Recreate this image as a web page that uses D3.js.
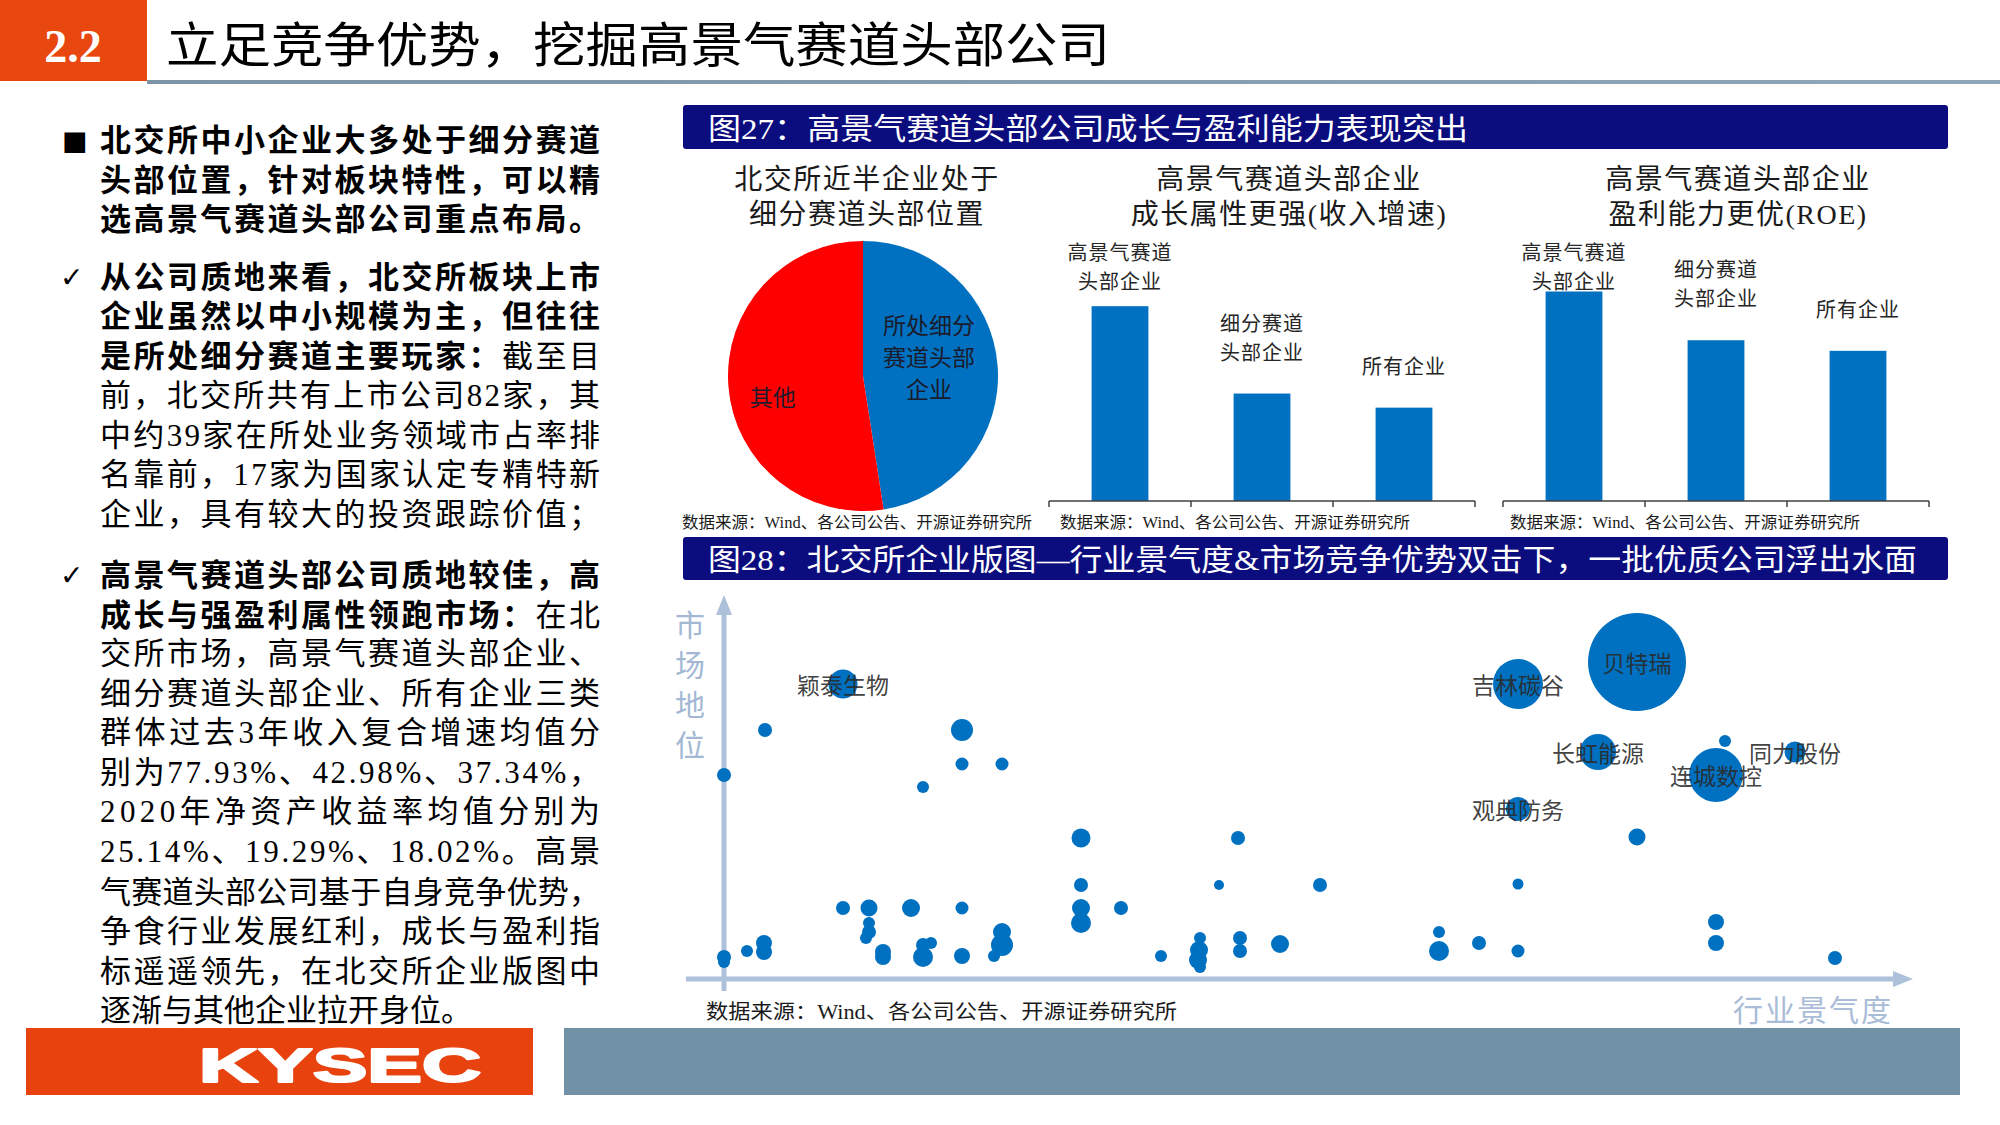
<!DOCTYPE html>
<html><head><meta charset="utf-8">
<script src="https://cdn.jsdelivr.net/npm/d3@7"></script>
<style>
body{margin:0;background:#fff}
svg{display:block}
text{font-family:"Liberation Serif","Noto Sans CJK SC",serif}
</style>
</head><body>
<svg id="c" width="2000" height="1125"></svg>
<script>
// ---------------- DATA ----------------
const pageTitle = "立足竞争优势，挖掘高景气赛道头部公司";
const sectionNo = "2.2";
const fig27Title = "图27：高景气赛道头部公司成长与盈利能力表现突出";
const fig28Title = "图28：北交所企业版图—行业景气度&市场竞争优势双击下，一批优质公司浮出水面";
const sourceText = "数据来源：Wind、各公司公告、开源证券研究所";

const pieTitle = ["北交所近半企业处于", "细分赛道头部位置"];
const pieCategories = ["所处细分赛道头部企业", "其他"];
const pieLabelLines = [["所处细分", "赛道头部", "企业"], ["其他"]];
const pieValues = [39, 43];

const growthTitle = ["高景气赛道头部企业", "成长属性更强(收入增速)"];
const roeTitle = ["高景气赛道头部企业", "盈利能力更优(ROE)"];
const barCategories = ["高景气赛道头部企业", "细分赛道头部企业", "所有企业"];
const barLabelLines = [["高景气赛道", "头部企业"], ["细分赛道", "头部企业"], ["所有企业"]];
const growthValues = [77.93, 42.98, 37.34];
const roeValues = [25.14, 19.29, 18.02];

const bubbleX = [11.9,4.1,0,23.8,23.8,27.8,19.9,35.7,51.4,35.7,49.5,59.6,11.9,14.5,18.7,23.8,35.7,35.7,39.7,14.5,14.5,14.2,0,0,2.3,4.0,4.0,15.9,15.9,19.9,20.7,19.9,23.8,27.0,27.8,27.8,43.7,47.6,47.5,47.4,47.6,51.6,51.6,55.6,91.3,79.4,87.4,100.1,107.1,99.2,79.4,91.3,79.4,71.5,71.5,75.5,79.4,99.2,99.2,111.1];
const bubbleY = [73.75,62.25,51,62.25,53.75,53.75,48,35.25,35.25,23.5,23.5,23.5,17.75,17.75,17.75,17.75,17.75,14,17.75,14,11.75,10.25,5.5,4.25,7,9,6.75,6.75,5.5,8.5,9,5.5,5.75,5.75,11.75,8.5,5.75,10.25,7.25,4.75,3,10.25,7,8.75,79.25,73.75,56.75,59.5,56.75,51,42.5,35.5,23.75,11.75,7,9,7,14.25,9,5.25];
const bubbleSize = [8.4,1.96,1.96,4.84,1.69,1.69,1.44,3.61,1.96,1.96,1.0,1.96,1.96,2.89,3.24,1.69,3.24,4,1.96,1.44,1.96,1.44,1.96,1.44,1.44,2.56,2.56,2.56,2.56,1.96,1.44,4,2.56,1.44,3.24,4.84,1.44,1.44,3.24,3.24,1.44,1.96,1.96,3.24,96,25,13,1.44,4.4,29,5.76,2.89,1.21,1.44,4,1.96,1.69,2.56,2.56,1.96];
const labelIndex = [0, 44, 45, 46, 48, 49, 50];
const labelNames = ["颖泰生物", "贝特瑞", "吉林碳谷", "长虹能源", "同力股份", "连城数控", "观典防务"];
const yAxisTitle = "市场地位";
const xAxisTitle = "行业景气度";

// left column text: [marker, lines], each line = segments [text, bold]
const paragraphs = [
  ["■", [
    [["北交所中小企业大多处于细分赛道", 1]],
    [["头部位置，针对板块特性，可以精", 1]],
    [["选高景气赛道头部公司重点布局。", 1]]
  ]],
  ["✓", [
    [["从公司质地来看，北交所板块上市", 1]],
    [["企业虽然以中小规模为主，但往往", 1]],
    [["是所处细分赛道主要玩家：", 1], ["截至目", 0]],
    [["前，北交所共有上市公司82家，其", 0]],
    [["中约39家在所处业务领域市占率排", 0]],
    [["名靠前，17家为国家认定专精特新", 0]],
    [["企业，具有较大的投资跟踪价值；", 0]]
  ]],
  ["✓", [
    [["高景气赛道头部公司质地较佳，高", 1]],
    [["成长与强盈利属性领跑市场：", 1], ["在北", 0]],
    [["交所市场，高景气赛道头部企业、", 0]],
    [["细分赛道头部企业、所有企业三类", 0]],
    [["群体过去3年收入复合增速均值分", 0]],
    [["别为77.93%、42.98%、37.34%，", 0]],
    [["2020年净资产收益率均值分别为", 0]],
    [["25.14%、19.29%、18.02%。高景", 0]],
    [["气赛道头部公司基于自身竞争优势，", 0]],
    [["争食行业发展红利，成长与盈利指", 0]],
    [["标遥遥领先，在北交所企业版图中", 0]],
    [["逐渐与其他企业拉开身位。", 0]]
  ]]
];

// ---------------- DRAW ----------------
const svg = d3.select("#c");
const BLUE = "#0070c0", NAVY = "#0b0c7e";

// header
svg.append("rect").attr("x", 0).attr("y", 0).attr("width", 147).attr("height", 81).attr("fill", "#e8470f");
svg.append("text").attr("x", 73).attr("y", 46).attr("text-anchor", "middle").attr("dominant-baseline", "central")
  .attr("font-size", 46).attr("font-weight", 700).attr("fill", "#fff").text(sectionNo);
svg.append("text").attr("x", 166).attr("y", 45).attr("dominant-baseline", "central")
  .attr("font-size", 48).attr("fill", "#000").attr("textLength", 944).attr("lengthAdjust", "spacingAndGlyphs").text(pageTitle);
const hg = svg.append("defs").append("linearGradient").attr("id", "hl");
hg.append("stop").attr("offset", "0%").attr("stop-color", "#7d93a6");
hg.append("stop").attr("offset", "100%").attr("stop-color", "#8fa5b8");
svg.append("rect").attr("x", 147).attr("y", 80).attr("width", 1853).attr("height", 4).attr("fill", "url(#hl)");

// left text
const lineYs = [[140, 180, 219], [277, 316, 356, 395, 435, 474, 514], [575, 615, 653, 693, 732, 772, 811, 851, 892, 931, 971, 1010]];
paragraphs.forEach((p, pi) => {
  const marker = p[0];
  svg.append("text").attr("x", marker === "■" ? 62 : 60).attr("y", lineYs[pi][0]).attr("dominant-baseline", "central")
    .style("font-family", "DejaVu Sans").attr("font-size", marker === "■" ? 27 : 28).attr("fill", "#000").text(marker);
  p[1].forEach((segs, li) => {
    const t = svg.append("text").attr("x", 100).attr("y", lineYs[pi][li]).attr("dominant-baseline", "central")
      .attr("font-size", 31).attr("fill", "#000");
    segs.forEach(s => t.append("tspan").attr("font-weight", s[1] ? 700 : 400).text(s[0]));
    const w = t.node().getComputedTextLength();
    if (w > 430) t.attr("textLength", Math.max(500, w)).attr("lengthAdjust", "spacing");
  });
});

// footer
svg.append("rect").attr("x", 26).attr("y", 1028).attr("width", 507).attr("height", 67).attr("fill", "#e8420e");
svg.append("text").attr("x", 340).attr("y", 1065).attr("text-anchor", "middle").attr("dominant-baseline", "central")
  .style("font-family", "Liberation Sans").attr("font-weight", 700).attr("font-size", 48).attr("fill", "#fff")
  .attr("stroke", "#fff").attr("stroke-width", 2.2).attr("stroke-linejoin", "round")
  .attr("textLength", 282).attr("lengthAdjust", "spacingAndGlyphs").text("KYSEC");
svg.append("rect").attr("x", 564).attr("y", 1028).attr("width", 1396).attr("height", 67).attr("fill", "#7192a6");

// figure header bars
function figBar(y, h, title, len) {
  svg.append("rect").attr("x", 683).attr("y", y).attr("width", 1265).attr("height", h).attr("rx", 3).attr("fill", NAVY);
  svg.append("text").attr("x", 708).attr("y", y + h / 2 + 1).attr("dominant-baseline", "central")
    .attr("font-size", 30).attr("fill", "#fff").attr("textLength", len).attr("lengthAdjust", "spacingAndGlyphs").text(title);
}
figBar(105, 44, fig27Title, 760);
figBar(537, 43, fig28Title, 1209);

// sub titles
function subTitle(lines, cx) {
  lines.forEach((l, i) => svg.append("text").attr("x", cx).attr("y", 179 + i * 35).attr("text-anchor", "middle")
    .attr("dominant-baseline", "central").attr("font-size", 28).attr("letter-spacing", 1.5).attr("fill", "#1a1a1a").text(l));
}
subTitle(pieTitle, 867);
subTitle(growthTitle, 1289);
subTitle(roeTitle, 1738);

// pie
const pcx = 863, pcy = 376, pr = 135;
const pie = d3.pie().sort(null).value(d => d)(pieValues);
const arc = d3.arc().innerRadius(0).outerRadius(pr);
const pg = svg.append("g").attr("transform", `translate(${pcx},${pcy})`);
pg.selectAll("path").data(pie).join("path").attr("d", arc).attr("fill", (d, i) => i === 0 ? BLUE : "#ff0000");
const labelR = [0.49 * pr, 0.67 * pr], labelDy = [-12, 16];
pie.forEach((d, i) => {
  const c = d3.arc().innerRadius(labelR[i]).outerRadius(labelR[i]).centroid(d);
  const lines = pieLabelLines[i];
  lines.forEach((l, k) => pg.append("text").attr("x", c[0]).attr("y", c[1] + labelDy[i] + (k - (lines.length - 1) / 2) * 32)
    .attr("text-anchor", "middle").attr("dominant-baseline", "central").attr("font-size", 23).attr("fill", "#1b1b2b").text(l));
});

// bar charts
function barChart(values, x0, x1, maxV) {
  const x = d3.scaleBand().domain(barCategories).range([x0, x1]).paddingInner(0.6).paddingOuter(0.3);
  const y = d3.scaleLinear().domain([0, maxV]).range([501, 251]);
  const g = svg.append("g");
  g.selectAll("rect").data(values).join("rect")
    .attr("x", (d, i) => x(barCategories[i])).attr("width", x.bandwidth())
    .attr("y", d => y(d)).attr("height", d => y(0) - y(d)).attr("fill", BLUE);
  g.append("line").attr("x1", x0).attr("x2", x1).attr("y1", y(0)).attr("y2", y(0)).attr("stroke", "#404040").attr("stroke-width", 1.5);
  d3.range(barCategories.length + 1).forEach(i => {
    const tx = x0 + i * x.step();
    g.append("line").attr("x1", tx).attr("x2", tx).attr("y1", y(0)).attr("y2", y(0) + 6).attr("stroke", "#404040").attr("stroke-width", 1.5);
  });
  values.forEach((v, i) => {
    const cx = x(barCategories[i]) + x.bandwidth() / 2;
    const lastY = Math.max(y(v) - 41, 282);
    const lines = barLabelLines[i];
    lines.forEach((l, k) => g.append("text").attr("x", cx).attr("y", lastY - (lines.length - 1 - k) * 29)
      .attr("text-anchor", "middle").attr("dominant-baseline", "central").attr("font-size", 20).attr("letter-spacing", 1)
      .attr("fill", "#262626").text(l));
  });
}
barChart(growthValues, 1049, 1475, 100);
barChart(roeValues, 1503, 1929, 30);

// sources fig27
[682, 1060, 1510].forEach(x => svg.append("text").attr("x", x).attr("y", 522).attr("dominant-baseline", "central")
  .attr("font-size", 16).attr("fill", "#1a1a1a").attr("textLength", 350).attr("lengthAdjust", "spacingAndGlyphs").text(sourceText));

// bubble chart
const bx = d3.scaleLinear().domain([0, 120]).range([724, 1924]);
const by = d3.scaleLinear().domain([0, 96]).range([979, 595]);
const br = d3.scaleSqrt().domain([0, 100]).range([0, 50]);
const AX = "#adc1da";
svg.append("line").attr("x1", bx(0)).attr("x2", bx(0)).attr("y1", 991).attr("y2", 612).attr("stroke", AX).attr("stroke-width", 5);
svg.append("path").attr("d", `M${bx(0)},595 L${bx(0) - 8},615 L${bx(0) + 8},615 Z`).attr("fill", AX);
svg.append("line").attr("x1", 686).attr("x2", 1897).attr("y1", by(0)).attr("y2", by(0)).attr("stroke", AX).attr("stroke-width", 5);
svg.append("path").attr("d", `M1913,${by(0)} L1893,${by(0) - 8} L1893,${by(0) + 8} Z`).attr("fill", AX);

const bubbles = bubbleX.map((v, i) => ({x: v, y: bubbleY[i], s: bubbleSize[i]}));
svg.append("g").selectAll("circle").data(bubbles).join("circle")
  .attr("cx", d => bx(d.x)).attr("cy", d => by(d.y)).attr("r", d => br(d.s)).attr("fill", BLUE);
labelIndex.forEach((idx, k) => svg.append("text").attr("x", bx(bubbleX[idx])).attr("y", by(bubbleY[idx]) + 2)
  .attr("text-anchor", "middle").attr("dominant-baseline", "central").attr("font-size", 23).attr("fill", "#2a2a2a")
  .attr("fill-opacity", 0.9).text(labelNames[k]));

// axis titles
yAxisTitle.split("").forEach((ch, i) => svg.append("text").attr("x", 690).attr("y", 625 + i * 40).attr("text-anchor", "middle")
  .attr("dominant-baseline", "central").attr("font-size", 30).attr("fill", "#a3b8d4").text(ch));
svg.append("text").attr("x", 1813).attr("y", 1010).attr("text-anchor", "middle").attr("dominant-baseline", "central")
  .attr("font-size", 30).attr("letter-spacing", 2).attr("fill", "#a9bcd8").text(xAxisTitle);
svg.append("text").attr("x", 706).attr("y", 1012).attr("dominant-baseline", "central")
  .attr("font-size", 20).attr("fill", "#1a1a1a").attr("textLength", 471).attr("lengthAdjust", "spacingAndGlyphs").text(sourceText);
</script>
</body></html>
